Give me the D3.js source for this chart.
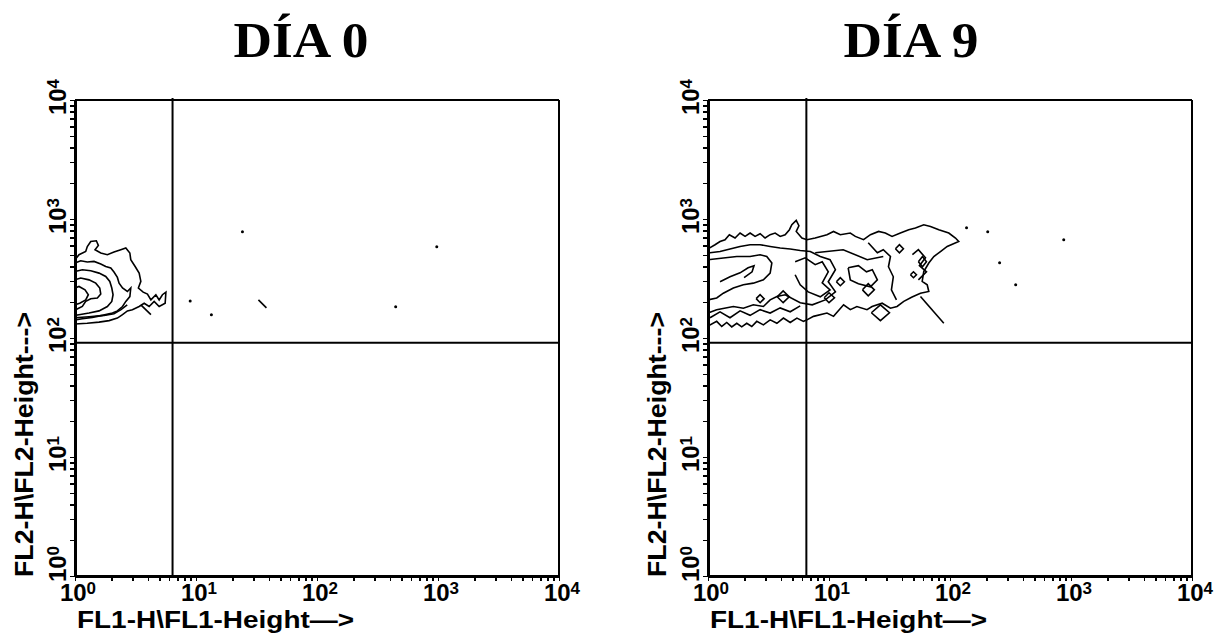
<!DOCTYPE html>
<head>
<meta charset="utf-8">
<script src="https://d3js.org/d3.v7.min.js"></script>
<style>
  body { margin: 0; background: #fff; }
  .title { font-family: "Liberation Serif", "Times New Roman", serif; font-weight: bold; font-size: 50px; }
  .tick-label { font-family: "Liberation Sans Narrow", "Liberation Sans", Arial, sans-serif; font-weight: bold; font-size: 24px; }
  .axis-label { font-family: "Liberation Sans Narrow", "Liberation Sans", Arial, sans-serif; font-weight: bold; font-size: 23px; }
  .axis path, .axis line { stroke: #000; shape-rendering: crispEdges; }
</style>
</head>
<body>
<div id="my_dataviz"></div>

<script>
// ---- data ----
var titles = ["DÍA 0", "DÍA 9"];
var xLabel = "FL1-H\\FL1-Height\u2014>";
var yLabel = "FL2-H\\FL2-Height--->";
var decades = [1, 10, 100, 1000, 10000];
var decadeExps = ["0", "1", "2", "3", "4"];

// quadrant gates [FL1, FL2]
var gateFL1 = [6.4, 6.5];
var gateFL2 = [91, 91];

// day 0 contour lines, points are [FL1-H, FL2-H]
var day0Contours = [
  [[1,455],[1.079,501],[1.226,533],[1.264,587],[1.349,647],[1.501,656],[1.56,600],[1.464,552],[1.633,518],[1.851,501],[2.10,527],[2.39,552],[2.63,570],[2.84,518],[2.89,455],[3.14,399],[3.39,351],[3.50,299],[3.34,263],[3.66,243],[3.97,234],[4.24,209],[4.66,231],[4.96,209],[5.28,231],[5.64,243],[5.56,196],[4.96,184],[4.51,203],[4.10,184],[3.73,196],[3.39,184],[2.98,173],[2.71,169],[2.47,157],[2.24,147],[1.913,140],[1.58,136],[1.26,133],[1,131]],
  [[1,427],[1.115,446],[1.264,435],[1.436,440],[1.633,418],[1.795,399],[1.975,387],[2.10,358],[2.24,323],[2.314,289],[2.47,263],[2.71,246],[2.89,263],[2.84,223],[2.63,203],[2.47,184],[2.24,169],[2.04,162],[1.683,155],[1.39,149],[1.15,145],[1,142]],
  [[1,362],[1.15,374],[1.349,367],[1.58,351],[1.795,329],[1.939,299],[2.014,263],[2.063,231],[2.014,203],[1.851,184],[1.58,169],[1.306,162],[1.079,157],[1,155]],
  [[1,308],[1.115,319],[1.306,308],[1.484,289],[1.602,263],[1.633,234],[1.53,217],[1.349,214],[1.226,203],[1.15,184],[1.013,173],[1,169]],
  [[1,263],[1.079,271],[1.21,254],[1.289,231],[1.226,209],[1.094,196],[1,190]],
  [[1,148],[1.306,151],[1.738,155],[2.10,160],[2.40,173],[2.70,190]],
  [[3.50,190],[4.24,157]],
  [[32.8,209],[38.2,179]]
];
var day0Events = [[24.2,782],[977,585],[8.95,205],[13.4,157],[447,183]];

// day 9 contour lines
var day9Contours = [
  [[1,560],[1.025,570],[1.143,608],[1.257,647],[1.383,670],[1.501,738],[1.673,692],[1.841,762],[2.025,714],[2.228,762],[2.45,714],[2.696,752],[2.965,692],[3.263,738],[3.59,762],[3.95,714],[4.34,738],[4.71,813],[4.93,895],[5.36,973],[5.64,878],[5.36,786],[5.97,692],[6.57,670],[7.69,692],[9.62,738],[10.9,786],[12.4,738],[15.0,762],[16.5,714],[19.3,670],[22.0,738],[25.7,786],[29.2,762],[33.2,714],[38.9,762],[45.6,813],[51.8,840],[60.7,895],[69.0,866],[80.8,813],[97.7,762],[111,692],[118,647],[94.8,588],[83.4,533],[73.5,484],[66.8,427],[60.7,362],[58.9,299],[64.8,280],[66.8,246],[57.0,238],[48.6,221],[41.5,203],[36.5,184],[32.2,178],[27.5,196],[22.7,184],[20.6,173],[17.0,184],[15.0,173],[13.2,190],[10.9,152],[9.62,162],[7.45,152],[6.57,142],[6.15,138],[5.43,147],[4.78,135],[4.20,147],[3.71,133],[3.263,142],[2.87,129],[2.53,138],[2.30,125],[2.09,133],[1.90,124],[1.729,133],[1.571,124],[1.428,135],[1.299,125],[1.18,138],[1.039,129],[1,129]],
  [[1,518],[1.257,533],[1.52,559],[1.841,588],[2.228,608],[2.696,608],[3.263,588],[3.95,570],[4.78,559],[5.78,544],[7.0,533],[8.47,484],[10.2,455],[11.3,375],[9.86,297],[11.3,244],[9.31,209],[7.27,190],[5.78,198],[4.34,231],[3.71,223],[3.263,209],[2.87,184],[2.37,190],[1.96,178],[1.62,184],[1.18,173],[1,162]],
  [[1,455],[1.339,470],[1.729,484],[2.228,484],[2.696,501],[3.06,484],[3.37,427],[3.263,351],[2.87,308],[2.37,289],[1.96,280],[1.62,263],[1.339,238],[1.18,217],[1,209]],
  [[1.257,297],[1.52,327],[1.841,353],[2.145,389],[2.40,405],[2.314,360],[1.987,321]],
  [[1.039,148],[1.257,166],[1.52,148],[1.841,169],[2.228,155],[2.696,173],[3.263,162],[3.95,179],[4.78,166],[5.78,186]],
  [[14.4,389],[17.5,405],[20.4,360],[22.8,375],[25.1,308],[22.0,269],[17.5,286],[15.0,308],[14.4,389]],
  [[5.25,437],[6.36,472],[7.69,413],[8.79,437],[9.86,360],[8.79,291],[10.2,254],[8.47,222],[6.73,244],[5.78,280],[5.25,340]],
  [[7.69,520],[13.1,552],[20.7,455],[28.1,484]],
  [[21.1,632],[25.1,520],[28.1,552],[32.2,484],[31.0,397],[34.0,327],[32.8,254],[36.1,209]],
  [[48.9,501],[54.8,552],[62.7,472],[55.9,405],[63.9,360],[54.8,308]],
  [[57.0,223],[88.9,133]],
  [[3.73,222],[4.18,249],[4.69,222],[4.18,198],[3.73,222]],
  [[35.4,562],[38.2,608],[41.2,562],[38.2,520],[35.4,562]],
  [[22.4,163],[26.6,190],[31.6,163],[26.6,140],[22.4,163]],
  [[9.13,218],[10.0,240],[11.1,218],[10.0,198],[9.13,218]],
  [[18.9,254],[21.1,286],[23.7,254],[21.1,226],[18.9,254]],
  [[54.8,437],[59.2,484],[63.9,437],[59.2,397],[54.8,437]],
  [[2.50,214],[2.696,231],[2.91,214],[2.696,198],[2.50,214]],
  [[11.5,297],[12.4,321],[13.4,297],[12.4,275],[11.5,297]],
  [[47.1,340],[49.9,360],[52.8,340],[49.9,321],[47.1,340]]
];
var day9Events = [[137,845],[205,782],[871,670],[257,429],[349,280]];

// ---- layout ----
var width = 1229, height = 638;
var plotW = 484, plotTop = 100, plotBottom = 576;
var panelX = [75, 708];
var titleX = [301, 911];

var svg = d3.select("#my_dataviz")
  .append("svg")
    .attr("width", width)
    .attr("height", height);

function drawPanel(i, contours, events) {
  var x0 = panelX[i];
  var x = d3.scaleLog().domain([1, 10000]).range([x0, x0 + plotW]);
  var y = d3.scaleLog().domain([1, 10000]).range([plotBottom, plotTop]);
  var g = svg.append("g");

  // title
  g.append("text")
    .attr("class", "title")
    .attr("x", titleX[i])
    .attr("y", 57)
    .attr("text-anchor", "middle")
    .attr("textLength", 135)
    .attr("lengthAdjust", "spacingAndGlyphs")
    .text(titles[i]);

  // box top + right
  g.append("line")
    .attr("x1", x(1)).attr("x2", x(10000))
    .attr("y1", y(10000)).attr("y2", y(10000))
    .attr("stroke", "#000").attr("stroke-width", 2);
  g.append("line")
    .attr("x1", x(10000)).attr("x2", x(10000))
    .attr("y1", y(10000)).attr("y2", y(1))
    .attr("stroke", "#000").attr("stroke-width", 2);

  // axes with log minor ticks, labels drawn separately
  g.append("g")
    .attr("class", "axis")
    .attr("transform", "translate(0," + plotBottom + ")")
    .call(d3.axisBottom(x).tickValues(x.ticks()).tickFormat("").tickSize(5).tickSizeOuter(0))
    .call(function(a) { a.select(".domain").attr("stroke-width", 2.5); a.selectAll(".tick line").attr("stroke-width", 1.5); });
  g.append("g")
    .attr("class", "axis")
    .attr("transform", "translate(" + x0 + ",0)")
    .call(d3.axisLeft(y).tickValues(y.ticks()).tickFormat("").tickSize(5).tickSizeOuter(0))
    .call(function(a) { a.select(".domain").attr("stroke-width", 2.5); a.selectAll(".tick line").attr("stroke-width", 1.5); });

  // x tick labels 10^n
  var xt = g.selectAll(".xtl").data(decades).enter()
    .append("text")
      .attr("class", "tick-label")
      .attr("x", function(d) { return x(d) + 3; })
      .attr("y", 601)
      .attr("text-anchor", "middle");
  xt.append("tspan").text("10");
  xt.append("tspan").attr("dy", -7).style("font-size", "17px")
    .text(function(d, k) { return decadeExps[k]; });

  // y tick labels, rotated
  var yt = g.selectAll(".ytl").data(decades).enter()
    .append("text")
      .attr("class", "tick-label")
      .attr("text-anchor", "middle")
      .attr("transform", function(d) {
        return "translate(" + (x0 - 9) + "," + (y(d) + (d === 1 ? -12 : -3)) + ") rotate(-90)";
      });
  yt.append("tspan").text("10");
  yt.append("tspan").attr("dy", -7).style("font-size", "17px")
    .text(function(d, k) { return decadeExps[k]; });

  // axis titles
  g.append("text")
    .attr("class", "axis-label")
    .attr("x", x0 + 2)
    .attr("y", 628)
    .attr("textLength", 277)
    .attr("lengthAdjust", "spacingAndGlyphs")
    .text(xLabel);
  g.append("text")
    .attr("class", "axis-label")
    .attr("transform", "translate(" + (x0 - 42) + ",577) rotate(-90)")
    .attr("textLength", 265)
    .attr("lengthAdjust", "spacingAndGlyphs")
    .style("font-size", "25px")
    .text(yLabel);

  // quadrant gates
  g.append("line")
    .attr("x1", x(gateFL1[i])).attr("x2", x(gateFL1[i]))
    .attr("y1", y(10000) - 2).attr("y2", y(1))
    .attr("stroke", "#000").attr("stroke-width", 2);
  g.append("line")
    .attr("x1", x(1)).attr("x2", x(10000))
    .attr("y1", y(gateFL2[i])).attr("y2", y(gateFL2[i]))
    .attr("stroke", "#000").attr("stroke-width", 2);

  // contours
  var line = d3.line()
    .x(function(d) { return x(d[0]); })
    .y(function(d) { return y(d[1]); });
  g.append("g")
    .selectAll("path")
    .data(contours)
    .enter()
    .append("path")
      .attr("d", line)
      .attr("fill", "none")
      .attr("stroke", "#000")
      .attr("stroke-width", 1.6)
      .attr("stroke-linejoin", "miter");

  // single events
  g.append("g")
    .selectAll("circle")
    .data(events)
    .enter()
    .append("circle")
      .attr("cx", function(d) { return x(d[0]); })
      .attr("cy", function(d) { return y(d[1]); })
      .attr("r", 1.5)
      .attr("fill", "#000");
}

drawPanel(0, day0Contours, day0Events);
drawPanel(1, day9Contours, day9Events);
</script>
</body>
